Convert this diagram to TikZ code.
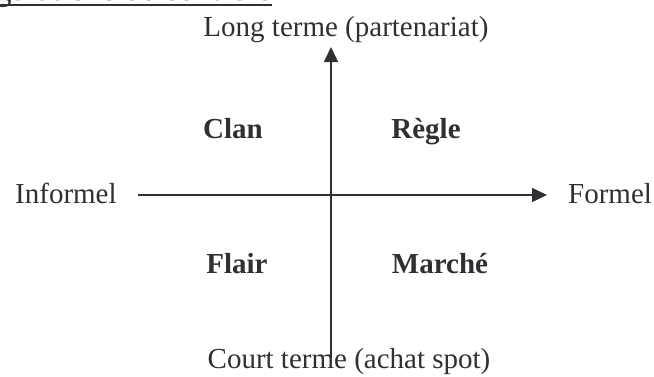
\documentclass[tikz,border=0pt]{standalone}
\usepackage{fontspec}
\setmainfont{Liberation Serif}
\usetikzlibrary{arrows.meta}
\definecolor{ink}{RGB}{48,48,52}
\begin{document}
\begin{tikzpicture}[x=1pt,y=1pt,
  lbl/.style={text=ink,font=\fontsize{29}{32}\selectfont,inner sep=0pt,anchor=base},
  quad/.style={lbl,font=\fontsize{29}{32}\selectfont\bfseries},
  axis/.style={draw=ink,line width=1.4pt,-{Triangle[length=15pt,width=14pt]}}]
\useasboundingbox (0,0) rectangle (654,376);
\clip (0,0) rectangle (654,376);
% clipped title at top
\node[lbl,font=\fontsize{33}{36}\selectfont,anchor=base east] (title) at (272,375) {Régulations de contrôle};
\draw[ink,line width=1.4pt] (title.base west) ++(0,-4) coordinate (u1) -- (u1 -| title.base east);
% labels
\node[lbl] (top) at (346,340) {Long terme (partenariat)};
\node[lbl] (bot) at (349,8) {Court terme (achat spot)};
\node[lbl,anchor=base west] (left) at (15,173) {Informel};
\node[lbl,anchor=base west] (right) at (568,173) {Formel};
\node[quad] (clan) at (233,238) {Clan};
\node[quad] (regle) at (426,238) {Règle};
\node[quad] (flair) at (237,103) {Flair};
\node[quad] (marche) at (440,103) {Marché};
% axes
\coordinate (vb) at (331,18);
\coordinate (vt) at (331,329);
\coordinate (hl) at (138,181);
\coordinate (hr) at (547,181);
\draw[axis] (vb) -- (vt);
\draw[axis] (hl) -- (hr);
\end{tikzpicture}
\end{document}
